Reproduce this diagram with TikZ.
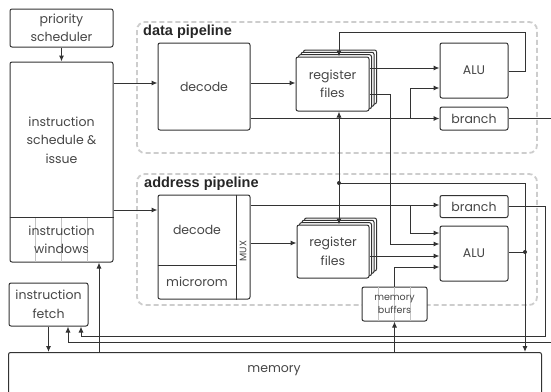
\documentclass[tikz,border=0pt]{standalone}
\usepackage{fontspec}
\setmainfont{Poppins}
\newfontfamily\labelfont{Liberation Sans}
\usetikzlibrary{arrows.meta, shadows}
\definecolor{linegray}{RGB}{51, 51, 51}
\definecolor{textgray}{RGB}{70, 70, 70}
\definecolor{dashgray}{RGB}{205, 205, 205}
\definecolor{cellgray}{RGB}{195, 195, 195}

\begin{document}
\begin{tikzpicture}[x=1pt, y=-1pt,
  unit/.style={draw=linegray, line width=1pt, fill=white, rounded corners=2pt, inner sep=0pt, align=center, text=textgray, font=\fontsize{12.5}{18.5}\selectfont},
  lbl/.style={inner sep=0pt, align=center, text=textgray, font=\fontsize{12.5}{18.5}\selectfont},
  small/.style={inner sep=0pt, align=center, text=textgray, font=\fontsize{9.5}{13}\selectfont},
  stage/.style={draw=dashgray, line width=1.8pt, dash pattern=on 5pt off 3pt, rounded corners=8pt},
  stagename/.style={anchor=west, inner sep=0pt, text=black!85, font=\labelfont\bfseries\fontsize{14.5}{16}\selectfont},
  regs/.style={unit,
    copy shadow={draw=linegray, fill=white, shadow xshift=7.5pt, shadow yshift=7pt},
    copy shadow={draw=linegray, fill=white, shadow xshift=5pt, shadow yshift=4.7pt},
    copy shadow={draw=linegray, fill=white, shadow xshift=2.5pt, shadow yshift=2.3pt}},
  wire/.style={draw=linegray, line width=1pt},
  arr/.style={wire, -{Latex[length=6pt, width=5pt]}},
  cell/.style={draw=cellgray, line width=0.6pt},
  dot/.style={fill=linegray}
]
  \useasboundingbox (0,0) rectangle (551,391);

  % Scheduling side
  \node[unit, minimum width=103pt, minimum height=38pt] (prio) at (61.5,28) {priority\\scheduler};
  \node[unit, minimum width=103pt, minimum height=200pt] (sched) at (61.5,162) {};
  \node[lbl] (schedtxt) at (61.5,140) {instruction\\schedule \&\\issue};
  \foreach \x in {35.75, 61.5, 87.25}
    \draw[cell] (\x,217) -- (\x,262);
  \draw[wire] (sched.west |- 0,217) -- (sched.east |- 0,217);
  \node[lbl] (wintxt) at (61.5,240) {instruction\\windows};
  \node[unit, minimum width=79pt, minimum height=43pt] (fetch) at (48.5,304.5) {instruction\\fetch};

  % Memory
  \node[unit, anchor=north west, minimum width=533pt, minimum height=50pt] (mem) at (8,352) {};
  \node[lbl] (memtxt) at (274,371) {memory};

  % Data pipeline
  \draw[stage] (137,22) rectangle (537,153);
  \node[stagename] (dname) at (143,32) {data pipeline};
  \node[unit, minimum width=92pt, minimum height=87pt] (ddec) at (204,86.5) {decode};
  \node[regs, minimum width=73pt, minimum height=54pt] (dregs) at (332.5,84) {register\\files};
  \node[unit, minimum width=68pt, minimum height=55pt] (dalu) at (474,70.5) {ALU};
  \node[unit, minimum width=68pt, minimum height=23pt] (dbr) at (474,118.5) {branch};

  % Address pipeline
  \draw[stage] (137,174) rectangle (537,305);
  \node[stagename] (aname) at (144,184) {address pipeline};
  \node[unit, minimum width=92pt, minimum height=104pt] (ablk) at (204,247) {};
  \draw[wire] ([xshift=-14pt]ablk.north east) -- ([xshift=-14pt]ablk.south east);
  \draw[wire] (ablk.west |- 0,265) -- (236,265);
  \node[lbl] (adec) at (197,230) {decode};
  \node[lbl] (arom) at (197,282) {microrom};
  \node[small, rotate=90] (amux) at (243,251) {MUX};
  \node[regs, minimum width=72pt, minimum height=53pt] (aregs) at (333,251.5) {register\\files};
  \node[unit, minimum width=68pt, minimum height=22pt] (abr) at (474,206.5) {branch};
  \node[unit, minimum width=68pt, minimum height=55pt] (aalu) at (474,253.5) {ALU};
  \node[unit, minimum width=65pt, minimum height=34pt] (mbuf) at (394.5,304) {};
  \foreach \x in {378.75, 394.5, 410.25}
    \draw[cell] (\x,287) -- (\x,321);
  \node[small] (mbuftxt) at (394.5,304) {memory\\buffers};

  % Junctions
  \coordinate (jregs) at (339,183);
  \coordinate (jalu) at (525,252);
  \coordinate (dsplit) at (410,118.5);
  \coordinate (asplit) at (410,205);
  \coordinate (dout) at (556,118.5);
  \coordinate (din) at (556,342);

  % Issue and memory paths
  \draw[arr] (prio) -- (sched);
  \draw[arr] (sched.east |- 0,83) -- (ddec.west |- 0,83);
  \draw[arr] (sched.east |- 0,210) -- (ablk.west |- 0,210);
  \draw[arr] (fetch.south) -- (fetch.south |- mem.north);
  \draw[arr] (mem.north -| 99,0) -- (sched.south -| 99,0);
  \draw[arr] (mem.north -| mbuf.south) -- (mbuf.south);
  \draw[arr] (jalu) -- (jalu |- mem.north);

  % Data pipeline paths
  \draw[arr] (ddec.east |- 0,83) -- (dregs.west |- 0,83);
  \draw[arr] (ddec.east |- dbr.west) -- (dbr.west);
  \draw[arr] (dsplit) |- (dalu.west |- 0,88);
  \draw[arr] (dregs.east |- 0,68) -- (dalu.west |- 0,68);
  \draw[arr] (dalu.east |- 0,71) -| (525,32) -| (dregs.north -| jregs);
  \draw[arr] (jregs) -- (dregs.south -| jregs);
  \draw[arr] (dregs.east |- 0,94) -| (390,244) -- (aalu.west |- 0,244);
  \draw[wire] (dbr.east) -- (dout);

  % Address pipeline paths
  \draw[arr] (ablk.east |- 0,243) -- (aregs.west |- 0,243);
  \draw[arr] (ablk.east |- asplit) -- (abr.west |- asplit);
  \draw[arr] (asplit) |- (aalu.west |- 0,233);
  \draw[arr] (aregs.east |- 0,256) -- (aalu.west |- 0,256);
  \draw[arr] (mbuf.north) |- (aalu.west |- 0,267);
  \draw[wire] (aalu.east |- jalu) -- (jalu) -- (jalu |- jregs) -- (jregs);
  \draw[arr] (jregs) -- (aregs.north -| jregs);
  \fill[dot] (jregs) circle (2pt);
  \fill[dot] (jalu) circle (2pt);

  % Branch results back to fetch
  \draw[arr] (abr.east) -| (545,336) -| (fetch.south -| 81,0);
  \draw[arr] (din) -| (fetch.south -| 68,0);
\end{tikzpicture}
\end{document}
